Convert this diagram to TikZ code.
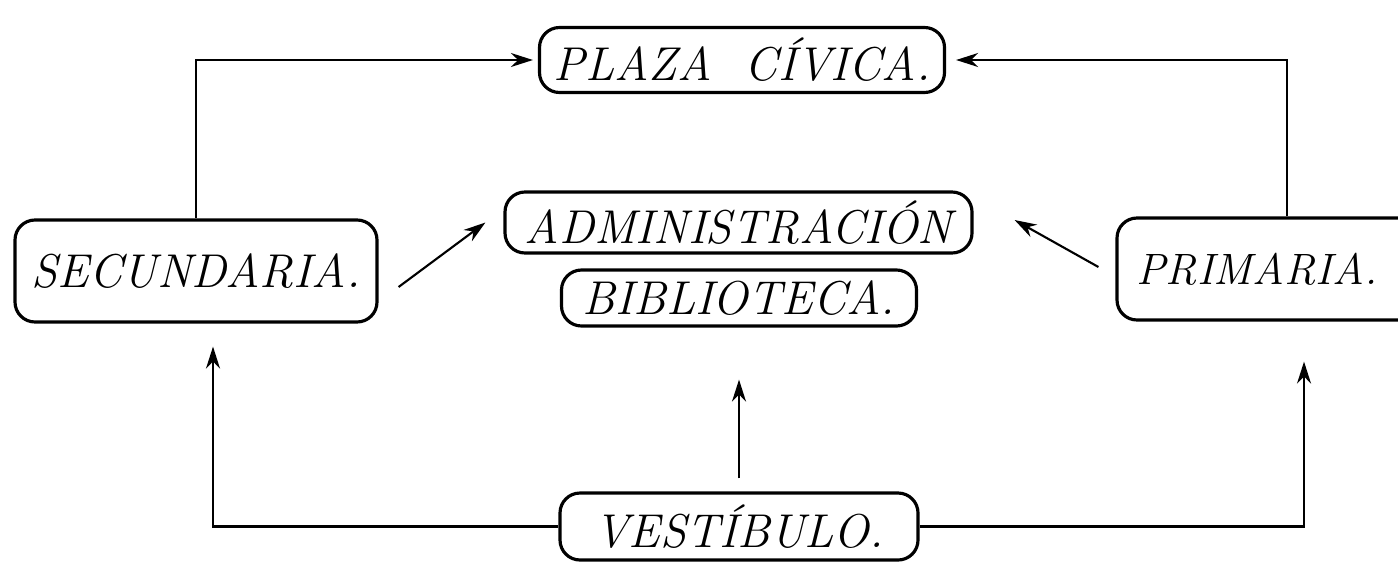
\documentclass[tikz,border=0pt]{standalone}
\usetikzlibrary{arrows.meta}
\newcommand{\letra}{\fontsize{13.5}{16}\selectfont\itshape}
\tikzset{
  caja/.style={draw, line width=0.9pt, rounded corners=0.2cm, font=\letra, inner sep=0pt},
  flecha/.style={line width=0.6pt, -{Stealth[length=2.2mm,width=1.4mm]}}
}
\begin{document}
\begin{tikzpicture}
  \useasboundingbox (0,0) rectangle (13.98,5.62);

  \node[caja, minimum width=4.05cm, minimum height=0.65cm] (plaza) at (7.42, 5.02) {PLAZA\hspace{0.7em}C\'IVICA.};
  \node[caja, minimum width=4.67cm, minimum height=0.61cm] (admin) at (7.385, 3.395) {ADMINISTRACI\'ON};
  \node[caja, minimum width=3.55cm, minimum height=0.56cm] (biblio) at (7.39, 2.64) {BIBLIOTECA.};
  \node[caja, minimum width=3.62cm, minimum height=1.02cm] (secu) at (1.96, 2.91) {SECUNDARIA.};
  \node[caja, minimum width=3.30cm, minimum height=1.02cm, font=\letra\fontsize{12.5}{15}\selectfont] (prim) at (12.82, 2.93) {PRIMARIA.\kern0.5cm};
  \node[caja, minimum width=3.58cm, minimum height=0.67cm] (vest) at (7.39, 0.355) {VEST\'IBULO.};

  \draw[flecha, shorten >=0.05cm] (secu.north) |- (plaza.west);
  \draw[flecha, shorten >=0.1cm] ([xshift=0.05cm]prim.north) |- (plaza.east);
  \draw[flecha] ([shift={(0.2,-0.16)}]secu.east) -- ([xshift=-0.18cm]admin.west);
  \draw[flecha] ([shift={(-0.17,0.02)}]prim.west) -- ([shift={(0.41,0.025)}]admin.east);
  \draw[flecha, shorten <=0.13cm, shorten >=0.52cm] (vest.north) -- (biblio.south);
  \draw[flecha] (vest.west) -| ([shift={(0.17,-0.23)}]secu.south);
  \draw[flecha] (vest.east) -| ([shift={(0.22,-0.4)}]prim.south);
\end{tikzpicture}
\end{document}
